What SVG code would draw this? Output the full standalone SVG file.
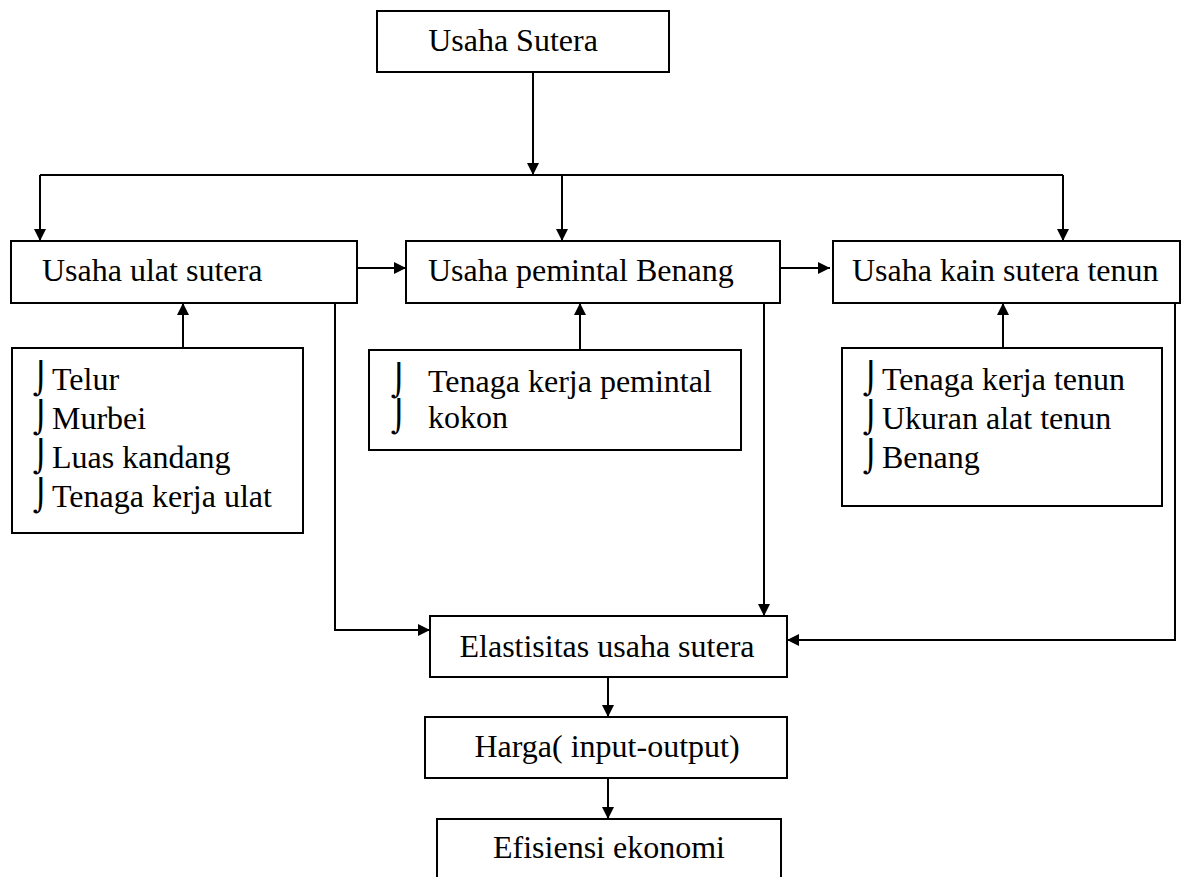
<svg xmlns="http://www.w3.org/2000/svg" width="1187" height="877" viewBox="0 0 1187 877">
<style>
.box{fill:#fff;stroke:#000;stroke-width:2}
.t{font-family:"Liberation Serif","Times New Roman",serif;font-size:32px;fill:#000}
.b{font-family:"DejaVu Serif","Liberation Serif",serif;font-size:31px;fill:#000}
.c{fill:none;stroke:#000;stroke-width:2}
</style>
<defs>
<marker id="ah" viewBox="0 0 12 12" refX="12" refY="6" markerWidth="12" markerHeight="12" markerUnits="userSpaceOnUse" orient="auto">
<path d="M0,0 L12,6 L0,12 Z" fill="#000"/>
</marker>
</defs>
<rect width="1187" height="877" fill="#fff"/>
<g id="connectors">
<path class="c" d="M533,72 V175" marker-end="url(#ah)"/>
<path class="c" d="M40,175 H1063"/>
<path class="c" d="M40,175 V241" marker-end="url(#ah)"/>
<path class="c" d="M562,174 V241" marker-end="url(#ah)"/>
<path class="c" d="M1063,175 V241" marker-end="url(#ah)"/>
<path class="c" d="M357,268 H406" marker-end="url(#ah)"/>
<path class="c" d="M777,268 H830" marker-end="url(#ah)"/>
<path class="c" d="M183,348 V303" marker-end="url(#ah)"/>
<path class="c" d="M580,350 V303" marker-end="url(#ah)"/>
<path class="c" d="M1003,348 V303" marker-end="url(#ah)"/>
<path class="c" d="M335,303 V630 H430" marker-end="url(#ah)"/>
<path class="c" d="M764,303 V616" marker-end="url(#ah)"/>
<path class="c" d="M1175,303 V640 H787" marker-end="url(#ah)"/>
<path class="c" d="M608,677 V717" marker-end="url(#ah)"/>
<path class="c" d="M608,778 V819" marker-end="url(#ah)"/>
</g>
<g id="usaha-sutera">
<rect class="box" x="377" y="11" width="292" height="61"/>
<text class="t" x="513" y="51" text-anchor="middle">Usaha Sutera</text>
</g>
<g id="usaha-ulat">
<rect class="box" x="11" y="241" width="346" height="62"/>
<text class="t" x="42" y="281">Usaha ulat sutera</text>
</g>
<g id="usaha-pemintal">
<rect class="box" x="406" y="241" width="374" height="62"/>
<text class="t" x="428" y="281">Usaha pemintal Benang</text>
</g>
<g id="usaha-kain">
<rect class="box" x="833" y="241" width="347" height="62"/>
<text class="t" x="852" y="281">Usaha kain sutera tenun</text>
</g>
<g id="input-ulat">
<rect class="box" x="12" y="348" width="291" height="185"/>
<text class="b" x="33" y="389">⌡</text><text class="t" x="52" y="390">Telur</text>
<text class="b" x="33" y="428">⌡</text><text class="t" x="52" y="429">Murbei</text>
<text class="b" x="33" y="467">⌡</text><text class="t" x="52" y="468">Luas kandang</text>
<text class="b" x="33" y="506">⌡</text><text class="t" x="52" y="507">Tenaga kerja ulat</text>
</g>
<g id="input-pemintal">
<rect class="box" x="369" y="350" width="372" height="100"/>
<text class="b" x="391" y="391">⌡</text><text class="t" x="428" y="392">Tenaga kerja pemintal</text>
<text class="b" x="391" y="427">⌡</text><text class="t" x="428" y="428">kokon</text>
</g>
<g id="input-kain">
<rect class="box" x="842" y="348" width="320" height="158"/>
<text class="b" x="863" y="389">⌡</text><text class="t" x="882" y="390">Tenaga kerja tenun</text>
<text class="b" x="863" y="428">⌡</text><text class="t" x="882" y="429">Ukuran alat tenun</text>
<text class="b" x="863" y="467">⌡</text><text class="t" x="882" y="468">Benang</text>
</g>
<g id="elastisitas">
<rect class="box" x="430" y="616" width="357" height="61"/>
<text class="t" x="607" y="657" text-anchor="middle">Elastisitas usaha sutera</text>
</g>
<g id="harga">
<rect class="box" x="425" y="717" width="362" height="61"/>
<text class="t" x="607" y="757" text-anchor="middle">Harga( input-output)</text>
</g>
<g id="efisiensi">
<rect class="box" x="437" y="819" width="344" height="70"/>
<text class="t" x="609" y="858" text-anchor="middle">Efisiensi ekonomi</text>
</g>
</svg>
